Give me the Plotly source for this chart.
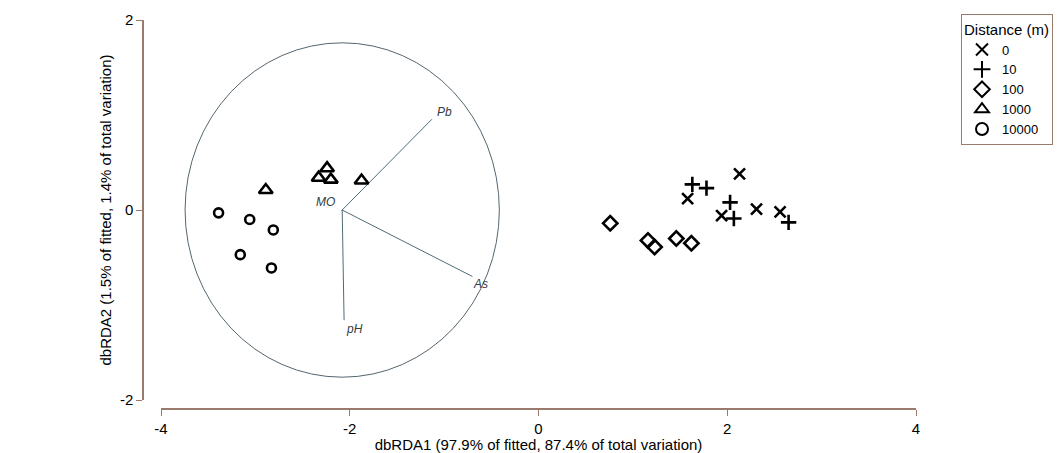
import plotly.graph_objects as go

# ---- data ----
groups = ["0", "10", "100", "1000", "10000"]
symbols = ["x-thin-open", "cross-thin-open", "diamond-open", "triangle-up-open", "circle-open"]

d0_x = [2.13, 1.58, 1.94, 2.31, 2.56]
d0_y = [0.38, 0.12, -0.06, 0.01, -0.02]
d10_x = [1.63, 1.78, 2.03, 2.07, 2.65]
d10_y = [0.27, 0.23, 0.08, -0.09, -0.13]
d100_x = [0.76, 1.16, 1.23, 1.46, 1.62]
d100_y = [-0.14, -0.32, -0.39, -0.30, -0.35]
d1000_x = [-2.24, -2.33, -2.20, -1.875, -2.89]
d1000_y = [0.44, 0.34, 0.32, 0.31, 0.21]
d10000_x = [-3.39, -3.06, -2.81, -3.16, -2.83]
d10000_y = [-0.03, -0.10, -0.21, -0.47, -0.61]

xs = [d0_x, d10_x, d100_x, d1000_x, d10000_x]
ys = [d0_y, d10_y, d100_y, d1000_y, d10000_y]

# vector overlay
vec_origin = (-2.08, 0.0)
vec_names = ["Pb", "As", "pH", "MO"]
vec_end_x = [-1.13, -0.70, -2.06, -2.085]
vec_end_y = [0.955, -0.70, -1.16, -0.005]
label_x = [-1.0, -0.61, -1.95, -2.26]
label_y = [1.03, -0.78, -1.25, 0.08]

circle_rx = 1.665
circle_ry = 1.76

x_ticks = [-4, -2, 0, 2, 4]
y_ticks = [-2, 0, 2]

# ---- figure ----
FONT = "Liberation Sans, Arial, sans-serif"
AXC = "#9a7a6c"
VEC = "#4f6b78"

fig = go.Figure()

for i in range(4):
    fig.add_trace(go.Scatter(
        x=[vec_origin[0], vec_end_x[i]], y=[vec_origin[1], vec_end_y[i]],
        mode="lines", line=dict(color=VEC, width=1), showlegend=False, hoverinfo="skip"))

for g, sym, x, y in zip(groups, symbols, xs, ys):
    size = 11
    if "circle" in sym:
        size = 9
    if "triangle" in sym:
        size = 12
    fig.add_trace(go.Scatter(
        x=x, y=y, mode="markers", name=g,
        marker=dict(symbol=sym, size=size,
                    color="black", line=dict(color="black", width=2.6))))

fig.add_shape(type="circle", xref="x", yref="y",
              x0=vec_origin[0] - circle_rx, x1=vec_origin[0] + circle_rx,
              y0=vec_origin[1] - circle_ry, y1=vec_origin[1] + circle_ry,
              line=dict(color="#55666f", width=1), layer="below")

for n, lx, ly in zip(vec_names, label_x, label_y):
    fig.add_annotation(x=lx, y=ly, text="<i>%s</i>" % n, showarrow=False,
                       font=dict(family=FONT, size=12, color="#333c45"))

L, R, T, B = 143, 141, 20, 44
W, H = 1057, 453
pw = W - L - R
ph = H - T - B

fig.update_layout(
    width=W, height=H,
    margin=dict(l=L, r=R, t=T, b=B, autoexpand=False),
    plot_bgcolor="white", paper_bgcolor="white",
    font=dict(family=FONT, size=14, color="black"),
    xaxis=dict(range=[-4, 4], domain=[18 / pw, 1], anchor="free", position=0,
               tickvals=x_ticks, ticktext=[str(v) for v in x_ticks],
               showline=True, linecolor=AXC, linewidth=1.5,
               ticks="outside", ticklen=6, tickcolor=AXC, tickwidth=1.2,
               showgrid=False, zeroline=False,
               tickfont=dict(size=15),
               title=dict(text="dbRDA1 (97.9% of fitted, 87.4% of total variation)",
                          font=dict(size=15), standoff=2)),
    yaxis=dict(range=[-2, 2], domain=[9 / ph, 1], anchor="free", position=0,
               tickvals=y_ticks, ticktext=[str(v) for v in y_ticks],
               showline=True, linecolor=AXC, linewidth=1.5,
               ticks="outside", ticklen=6, tickcolor=AXC, tickwidth=1.2,
               showgrid=False, zeroline=False,
               tickfont=dict(size=15),
               title=dict(text="dbRDA2 (1.5% of fitted, 1.4% of total variation)",
                          font=dict(size=15), standoff=4)),
    legend=dict(x=(961 - L) / pw, y=(H - B - 14) / ph, xanchor="left", yanchor="top",
                bordercolor=AXC, borderwidth=1, bgcolor="white",
                font=dict(size=13), itemsizing="constant",
                title=dict(text="Distance (m)", font=dict(size=15)),
                tracegroupgap=0, itemwidth=30),
)

fig.write_html("out.html", config={"displayModeBar": False},
               post_script="document.body.style.margin='0';document.body.style.overflow='hidden';")
